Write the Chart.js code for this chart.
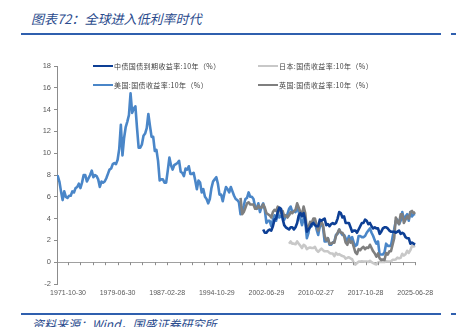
<!DOCTYPE html>
<html>
<head>
<meta charset="utf-8">
<script src="https://cdn.jsdelivr.net/npm/chart.js@4.4.0/dist/chart.umd.min.js"></script>
<style>
  body{margin:0;width:456px;height:327px;overflow:hidden;background:#fff;position:relative;
       font-family:"Noto Sans CJK SC","Liberation Sans",sans-serif}
  #title{position:absolute;left:31px;top:9px;font-size:13px;font-style:italic;color:#2a4b8d;white-space:nowrap}
  .rule{position:absolute;height:2px;background:#2f5fae}
  #box{position:absolute;left:0;top:40px;width:456px;height:265px}
  .lg{position:absolute;font-size:7px;color:#404040;white-space:nowrap;line-height:10px;letter-spacing:.4px}
  .lg i{display:inline-block;width:20px;height:2.5px;vertical-align:middle;margin-right:1px;position:relative;top:-1px}
  #src{position:absolute;left:32px;top:315px;font-size:12px;font-style:italic;color:#2a4b8d;white-space:nowrap}
</style>
</head>
<body>
<div id="title">图表72：全球进入低利率时代</div>
<div class="rule" style="left:21px;top:33px;width:420px"></div>
<div class="rule" style="left:451px;top:33px;width:5px"></div>
<div id="box"><canvas id="c"></canvas></div>
<div id="legend"></div>
<div class="rule" style="left:21px;top:313px;width:420px"></div>
<div class="rule" style="left:451px;top:313px;width:5px"></div>
<div id="src">资料来源：Wind，国盛证券研究所</div>
<script>
/* ——— data (quarterly) ——— */
const SERIES_NAMES = ['中债国债到期收益率:10年（%）', '日本:国债收益率:10年（%）',
                      '美国:国债收益率:10年（%）', '英国:国债收益率:10年（%）'];
const COLOURS = ['#0d3f95', '#c8c8c8', '#4a86c8', '#7f7f7f'];
const X_LABELS = ['1971-10-30', '1979-06-30', '1987-02-28', '1994-10-29',
                  '2002-06-29', '2010-02-27', '2017-10-28', '2025-06-28'];
const Y_MIN = -2, Y_MAX = 18, Y_STEP = 2;

const cnStart = 2002.0;
const cnYield = [
  3.0, 2.7, 2.7, 2.9,  3.0, 2.9, 3.3, 3.9,  4.0, 4.6, 5.0, 4.9,  4.0, 3.4, 3.2, 3.1,
  3.0, 3.2, 3.2, 3.0,  3.2, 3.6, 4.3, 4.5,  4.2, 4.5, 3.9, 2.8,  3.0, 3.2, 3.5, 3.6,
  3.4, 3.3, 3.3, 3.9,  3.8, 3.9, 4.0, 3.4,  3.5, 3.3, 3.5, 3.6,  3.5, 3.6, 4.0, 4.6,
  4.5, 4.1, 4.2, 3.6,  3.6, 3.6, 3.2, 2.8,  2.9, 2.9, 2.7, 3.0,  3.3, 3.6, 3.6, 3.9,
  3.8, 3.5, 3.6, 3.3,  3.1, 3.2, 3.1, 3.1,  2.6, 2.8, 3.1, 3.2,  3.2, 3.1, 2.9, 2.8,
  2.8, 2.8, 2.7, 2.8,  2.9, 2.6, 2.7, 2.6,  2.3, 2.2, 2.2, 1.7,  1.8, 1.7, 1.65
];

const jpStart = 2006.0;
const jpYield = [
  1.7, 1.9, 1.7, 1.7,  1.65, 1.9, 1.7, 1.5,  1.3, 1.6, 1.5, 1.2,  1.3, 1.35, 1.3, 1.3,
  1.4, 1.1, 0.95, 1.1,  1.25, 1.1, 1.0, 1.0,  1.0, 0.85, 0.8, 0.8,  0.55, 0.85, 0.7, 0.74,
  0.64, 0.57, 0.52, 0.33,  0.4, 0.45, 0.35, 0.27,  -0.05, -0.22, -0.08, 0.05,  0.07, 0.08, 0.07, 0.05,
  0.05, 0.03, 0.13, 0.0,  -0.08, -0.16, -0.2, -0.02,  0.02, 0.03, 0.02, 0.02,  0.09, 0.06, 0.07, 0.07,
  0.22, 0.23, 0.25, 0.42,  0.35, 0.4, 0.77, 0.61,  0.73, 1.05, 0.85, 1.1,  1.5, 1.45, 1.5
];

const usStart = 1970.0;
const usYield = [
  7.8, 7.9, 7.4, 6.5,  5.7, 6.5, 6.0, 5.9,  6.1, 6.1, 6.5, 6.4,  6.8, 6.9, 7.2, 6.8,
  7.3, 8.0, 8.0, 7.4,  7.7, 8.0, 8.4, 7.8,  8.0, 7.9, 7.6, 6.9,  7.4, 7.3, 7.4, 7.7,
  8.1, 8.5, 8.6, 9.0,  9.1, 9.0, 9.4, 10.4,  12.6, 9.8, 11.4, 12.4,  12.9, 13.5, 15.5, 13.7,
  14.1, 14.3, 12.3, 10.5,  10.5, 10.8, 11.6, 11.8,  12.3, 13.6, 12.5, 11.5,  11.5, 10.2, 10.3, 9.3,
  7.5, 7.6, 7.6, 7.3,  7.3, 8.4, 9.6, 8.9,  8.5, 8.9, 9.0, 9.1,  9.3, 8.3, 8.2, 7.9,
  8.6, 8.5, 8.8, 8.1,  8.1, 8.2, 7.5, 6.7,  7.5, 7.3, 6.4, 6.7,  6.0, 5.8, 5.4, 5.8,
  6.8, 7.4, 7.6, 7.8,  7.2, 6.2, 6.2, 5.6,  6.3, 6.9, 6.7, 6.4,  6.9, 6.5, 6.1, 5.8,
  5.7, 5.5, 4.4, 4.7,  5.2, 5.8, 5.9, 6.4,  6.0, 6.0, 5.8, 5.1,  4.9, 5.4, 4.6, 5.1,
  5.4, 4.8, 3.6, 3.8,  3.8, 3.3, 3.9, 4.3,  3.8, 4.6, 4.1, 4.2,  4.5, 3.9, 4.3, 4.4,
  4.9, 5.1, 4.6, 4.7,  4.6, 5.0, 4.6, 4.0,  3.4, 4.0, 3.8, 2.2,  2.7, 3.5, 3.3, 3.8,
  3.8, 3.0, 2.5, 3.3,  3.5, 3.2, 1.9, 1.9,  2.2, 1.6, 1.6, 1.8,  1.9, 2.5, 2.6, 3.0,
  2.7, 2.5, 2.5, 2.2,  1.9, 2.4, 2.0, 2.3,  1.8, 1.5, 1.6, 2.4,  2.4, 2.3, 2.3, 2.4,
  2.7, 2.9, 3.1, 2.7,  2.4, 2.0, 1.7, 1.9,  0.7, 0.7, 0.7, 0.9,  1.7, 1.5, 1.5, 1.5,
  2.3, 3.0, 3.8, 3.9,  3.5, 3.8, 4.6, 3.9,  4.2, 4.4, 3.8, 4.6,  4.2, 4.4, 4.4
];

const ukStart = 1998.5;
const ukYield = [
  5.9, 4.4,  4.6, 5.0, 5.4, 5.5,  5.3, 5.3, 5.3, 4.9,  4.9, 5.2, 5.0, 5.0,
  5.3, 5.0, 4.5, 4.4,  4.3, 4.1, 4.6, 4.8,  4.7, 5.1, 4.9, 4.5,  4.7, 4.2, 4.3, 4.1,
  4.3, 4.6, 4.5, 4.7,  4.8, 5.4, 5.0, 4.6,  4.4, 5.1, 4.5, 3.0,  3.2, 3.7, 3.6, 4.0,
  4.0, 3.4, 2.9, 3.4,  3.7, 3.4, 2.4, 2.0,  2.2, 1.7, 1.7, 1.8,  1.8, 2.4, 2.7, 3.0,
  2.7, 2.7, 2.4, 1.8,  1.6, 2.1, 1.8, 1.9,  1.4, 0.9, 0.75, 1.2,  1.1, 1.3, 1.4, 1.2,
  1.35, 1.3, 1.6, 1.3,  1.0, 0.8, 0.5, 0.8,  0.35, 0.2, 0.25, 0.2,  0.85, 0.7, 1.0, 1.0,
  1.6, 2.2, 4.1, 3.7,  3.5, 4.4, 4.4, 3.6,  3.9, 4.2, 4.0, 4.6,  4.7, 4.5, 4.6
];

/* ——— helpers ——— */
const QUARTER = 0.25;
const toPoints = (start, vals) => vals.map((v, i) => ({x: start + i * QUARTER, y: v}));
const dateToYear = s => {
  const [y, m, d] = s.split('-').map(Number);
  return y + (m - 1) / 12 + d / 365;
};
const X_POS = X_LABELS.map(dateToYear);
const X_STEP = X_POS[1] - X_POS[0];

/* ——— html legend (2 x 2) ——— */
const legendSpots = [[93, 61], [258, 61], [93, 80], [258, 80]];
const legendDiv = document.getElementById('legend');
SERIES_NAMES.forEach((name, i) => {
  const el = document.createElement('div');
  el.className = 'lg';
  el.style.left = legendSpots[i][0] + 'px';
  el.style.top = legendSpots[i][1] + 'px';
  el.innerHTML = `<i style="background:${COLOURS[i]}"></i>${name}`;
  legendDiv.appendChild(el);
});

/* ——— minor ticks on the zero line ——— */
const zeroTicks = {
  id: 'zeroTicks',
  afterDraw(chart) {
    const {ctx, scales: {x, y}} = chart;
    const y0 = y.getPixelForValue(0);
    ctx.save();
    ctx.strokeStyle = '#8c8c8c';
    ctx.lineWidth = 1;
    ctx.beginPath();
    for (let t = X_POS[0]; t <= x.max + 0.01; t += X_STEP / 4) {
      const px = Math.round(x.getPixelForValue(t)) + 0.5;
      ctx.moveTo(px, y0);
      ctx.lineTo(px, y0 + 3);
    }
    ctx.stroke();
    ctx.restore();
  }
};

const mk = (i, data, order) => ({
  label: SERIES_NAMES[i], data, borderColor: COLOURS[i], backgroundColor: COLOURS[i],
  borderWidth: 2.6, pointRadius: 0, tension: 0, order, borderJoinStyle: 'round'
});

new Chart(document.getElementById('c'), {
  type: 'line',
  data: {
    datasets: [
      mk(0, toPoints(cnStart, cnYield), 0),
      mk(1, toPoints(jpStart, jpYield), 3),
      mk(2, toPoints(usStart, usYield), 2),
      mk(3, toPoints(ukStart, ukYield), 1)
    ]
  },
  options: {
    responsive: true,
    maintainAspectRatio: false,
    animation: false,
    layout: {padding: {top: 26, right: 40, left: 0, bottom: 0}},
    plugins: {legend: {display: false}, tooltip: {enabled: false}},
    scales: {
      x: {
        type: 'linear', min: 1970.13, max: 2025.62,
        afterBuildTicks: s => { s.ticks = X_POS.map(v => ({value: v})); },
        afterFit: s => { s.height = 21; },
        grid: {display: false, drawTicks: false},
        border: {display: false},
        ticks: {
          autoSkip: false, maxRotation: 0, padding: 5,
          font: {size: 7, family: 'Liberation Sans'}, color: '#595959',
          callback: (v, i) => X_LABELS[i]
        }
      },
      y: {
        min: Y_MIN, max: Y_MAX,
        afterFit: s => { s.width = 57; },
        border: {display: true, color: '#8c8c8c', width: 1},
        grid: {
          drawTicks: true, tickLength: 3, tickColor: '#8c8c8c',
          color: c => c.tick && c.tick.value === 0 ? '#a0a0a0' : 'rgba(0,0,0,0)'
        },
        ticks: {
          stepSize: Y_STEP, padding: 3,
          font: {size: 7.5, family: 'Liberation Sans'}, color: '#595959'
        }
      }
    }
  },
  plugins: [zeroTicks]
});
</script>
</body>
</html>
